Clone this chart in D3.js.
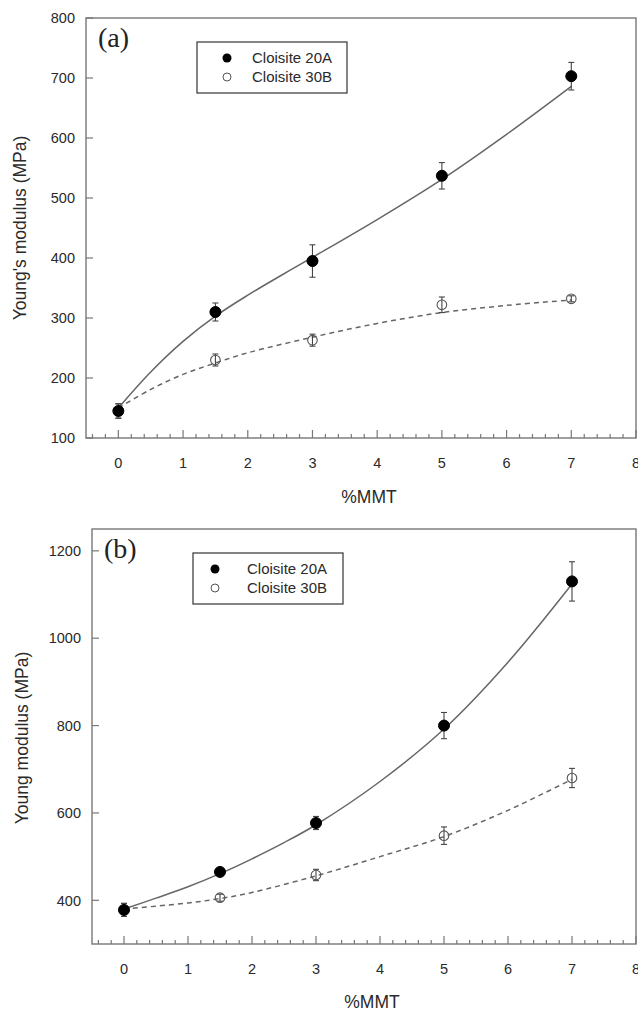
<!DOCTYPE html>
<html>
<head>
<meta charset="utf-8">
<script src="https://cdn.jsdelivr.net/npm/d3@7"></script>
<style>
  body { margin: 0; background: #fff; }
  text { font-family: "Liberation Sans", Arial, sans-serif; }
  text.letter { font-family: "Liberation Serif", "DejaVu Serif", serif; }
</style>
</head>
<body>
<div id="chart"></div>
<script>
// x values (%MMT)
var mmt = [0, 1.5, 3, 5, 7];
var xTicks = [0, 1, 2, 3, 4, 5, 6, 7, 8];

// panel (a) - Young's modulus
var a20 = [145, 310, 395, 537, 703];
var a20err = [12, 15, 27, 22, 23];
var a30 = [145, 230, 263, 322, 332];
var a30err = [12, 10, 10, 13, 5];
var a20fit = [[0, 150], [0.5, 210], [1, 261], [1.5, 303], [2, 338], [2.5, 370], [3, 401], [4, 464], [5, 531], [6, 606], [7, 686]];
var a30fit = [[0, 150], [0.5, 181], [1, 206], [1.5, 225], [2, 242], [3, 268], [4, 291], [5, 309], [6, 321], [7, 330]];
var aTicks = [100, 200, 300, 400, 500, 600, 700, 800];

// panel (b) - Young modulus
var b20 = [378, 465, 577, 800, 1130];
var b20err = [15, 6, 15, 30, 45];
var b30 = [378, 406, 458, 548, 680];
var b30err = [15, 8, 13, 20, 22];
var b20fit = [[0, 380], [0.5, 405], [1, 431], [1.5, 461], [2, 495], [2.5, 532], [3, 573], [4, 672], [5, 792], [6, 945], [7, 1124]];
var b30fit = [[0, 380], [1, 394], [1.5, 404], [2, 418], [3, 456], [4, 500], [5, 546], [6, 606], [7, 677]];
var bTicks = [400, 600, 800, 1000, 1200];

var svg = d3.select("#chart").append("svg")
  .attr("width", 638)
  .attr("height", 1012);

function drawPanel(p) {
  var x = d3.scaleLinear().domain([-0.5, 8]).range([p.left, p.right]);
  var y = d3.scaleLinear().domain(p.ydom).range([p.bottom, p.top]);
  var g = svg.append("g");

  // frame
  g.append("rect")
    .attr("x", p.left).attr("y", p.top)
    .attr("width", p.right - p.left).attr("height", p.bottom - p.top)
    .attr("fill", "none").attr("stroke", "#777").attr("stroke-width", 1.4);

  // x axis, ticks pointing inward
  var minor = d3.range(-0.4, 8.01, 0.2).filter(function(v) { return Math.abs(v - Math.round(v)) > 0.01; });
  g.selectAll(".xminor").data(minor).enter().append("line")
    .attr("x1", function(d) { return x(d); }).attr("x2", function(d) { return x(d); })
    .attr("y1", p.bottom).attr("y2", p.bottom - 4)
    .attr("stroke", "#777").attr("stroke-width", 1.2);
  g.selectAll(".xmajor").data(xTicks).enter().append("line")
    .attr("x1", function(d) { return x(d); }).attr("x2", function(d) { return x(d); })
    .attr("y1", p.bottom).attr("y2", p.bottom - 8)
    .attr("stroke", "#777").attr("stroke-width", 1.2);
  g.selectAll(".xlab").data(xTicks).enter().append("text")
    .attr("x", function(d) { return x(d); })
    .attr("y", p.bottom + 30)
    .attr("text-anchor", "middle")
    .attr("font-size", 14.5).attr("fill", "#2a2a2a")
    .text(function(d) { return d; });

  // y axis ticks inward
  g.selectAll(".ymajor").data(p.yticks).enter().append("line")
    .attr("x1", p.left).attr("x2", p.left + 7)
    .attr("y1", function(d) { return y(d); }).attr("y2", function(d) { return y(d); })
    .attr("stroke", "#777").attr("stroke-width", 1.2);
  g.selectAll(".ylab").data(p.yticks).enter().append("text")
    .attr("x", p.left - 11)
    .attr("y", function(d) { return y(d); })
    .attr("dy", "0.36em")
    .attr("text-anchor", "end")
    .attr("font-size", 14.5).attr("fill", "#2a2a2a")
    .text(function(d) { return d; });

  // axis titles
  g.append("text")
    .attr("x", (p.left + p.right) / 2 + 8)
    .attr("y", p.xtitleY)
    .attr("text-anchor", "middle")
    .attr("font-size", 17.5).attr("fill", "#2a2a2a")
    .text("%MMT");
  g.append("text")
    .attr("transform", "translate(" + p.ytitleX + "," + p.ytitleY + ") rotate(-90)")
    .attr("text-anchor", "middle")
    .attr("font-size", 17.5).attr("fill", "#2a2a2a")
    .text(p.ytitle);

  // panel letter
  g.append("text")
    .attr("class", "letter")
    .attr("x", p.left + 12).attr("y", p.top + 29)
    .attr("font-size", 28).attr("fill", "#222")
    .text(p.letter);

  // fitted curves
  var line = d3.line()
    .x(function(d) { return x(d[0]); })
    .y(function(d) { return y(d[1]); })
    .curve(d3.curveCatmullRom.alpha(0.5));
  g.append("path").attr("d", line(p.fit20))
    .attr("fill", "none").attr("stroke", "#666").attr("stroke-width", 1.5);
  g.append("path").attr("d", line(p.fit30))
    .attr("fill", "none").attr("stroke", "#666").attr("stroke-width", 1.5)
    .attr("stroke-dasharray", "5,4");

  // error bars + markers
  function series(vals, errs, filled) {
    var pts = mmt.map(function(m, i) { return {x: m, v: vals[i], e: errs[i]}; });
    var eg = g.append("g").attr("stroke", "#444").attr("stroke-width", 1.1);
    pts.forEach(function(d) {
      var cx = x(d.x);
      eg.append("line").attr("x1", cx).attr("x2", cx)
        .attr("y1", y(d.v - d.e)).attr("y2", y(d.v + d.e));
      eg.append("line").attr("x1", cx - 3).attr("x2", cx + 3)
        .attr("y1", y(d.v - d.e)).attr("y2", y(d.v - d.e));
      eg.append("line").attr("x1", cx - 3).attr("x2", cx + 3)
        .attr("y1", y(d.v + d.e)).attr("y2", y(d.v + d.e));
    });
    g.selectAll(null).data(pts).enter().append("circle")
      .attr("cx", function(d) { return x(d.x); })
      .attr("cy", function(d) { return y(d.v); })
      .attr("r", filled ? 5.5 : 4.8)
      .attr("fill", filled ? "#000" : "none")
      .attr("stroke", filled ? "#000" : "#555")
      .attr("stroke-width", filled ? 1 : 1.1);
  }
  series(p.s30, p.e30, false);
  series(p.s20, p.e20, true);

  // legend
  var lg = g.append("g").attr("transform", "translate(" + p.legX + "," + p.legY + ")");
  lg.append("rect").attr("width", 150).attr("height", 51)
    .attr("fill", "#fff").attr("stroke", "#333").attr("stroke-width", 1.2);
  lg.append("circle").attr("cx", p.legMx).attr("cy", 16).attr("r", 4.5).attr("fill", "#000");
  lg.append("circle").attr("cx", p.legMx).attr("cy", 35).attr("r", 4).attr("fill", "none")
    .attr("stroke", "#555").attr("stroke-width", 1);
  lg.append("text").attr("x", p.legTx).attr("y", 16).attr("dy", "0.36em")
    .attr("font-size", 15).attr("fill", "#2a2a2a").text("Cloisite 20A");
  lg.append("text").attr("x", p.legTx).attr("y", 35).attr("dy", "0.36em")
    .attr("font-size", 15).attr("fill", "#2a2a2a").text("Cloisite 30B");
}

drawPanel({
  left: 86, right: 636, top: 18, bottom: 438,
  ydom: [100, 800], yticks: aTicks,
  s20: a20, e20: a20err, s30: a30, e30: a30err,
  fit20: a20fit, fit30: a30fit,
  ytitle: "Young's modulus (MPa)", ytitleX: 26, ytitleY: 228,
  xtitleY: 503, letter: "(a)",
  legX: 197, legY: 42, legMx: 30, legTx: 55
});

drawPanel({
  left: 92, right: 636, top: 529, bottom: 944,
  ydom: [300, 1250], yticks: bTicks,
  s20: b20, e20: b20err, s30: b30, e30: b30err,
  fit20: b20fit, fit30: b30fit,
  ytitle: "Young modulus (MPa)", ytitleX: 28, ytitleY: 738,
  xtitleY: 1008, letter: "(b)",
  legX: 193, legY: 553, legMx: 22, legTx: 54
});
</script>
</body>
</html>
